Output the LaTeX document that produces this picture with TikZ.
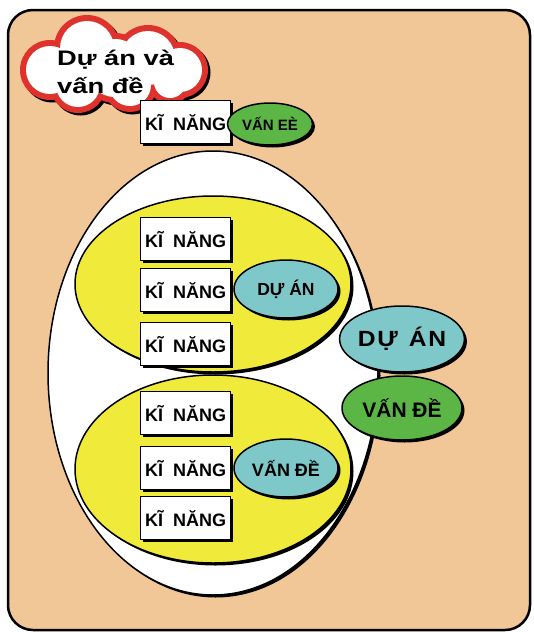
\documentclass[tikz,border=0pt]{standalone}
\usepackage{fontspec}
\setmainfont{Liberation Sans}
\usetikzlibrary{shapes.geometric,shadows}
\definecolor{peach}{HTML}{F2C797}
\definecolor{yel}{HTML}{F0EB3A}
\definecolor{cyanish}{HTML}{7EC8C9}
\definecolor{grn}{HTML}{5BB646}
\definecolor{cloudred}{HTML}{E0322D}
\newcommand{\cloudpuffs}{50/70/30, 87/48/33, 148/58/33, 180/70/28, 78/85/28, 130/85/27, 170/82/22, 115/68/35}
\begin{document}
\begin{tikzpicture}[x=1pt,y=-1pt,
  shad/.style={drop shadow={shadow xshift=2.5pt,shadow yshift=-2.5pt,fill=black,opacity=1}},
  skill/.style={draw=black,line width=1.2pt,fill=white,minimum width=90pt,minimum height=43pt,
    inner sep=0pt,anchor=north west,font=\bfseries\fontsize{18}{20}\selectfont,shad},
  oval/.style={ellipse,draw=black,line width=1.5pt,inner sep=0pt,shad,font=\bfseries},
  bigoval/.style={ellipse,draw=black,line width=1.5pt,inner sep=0pt,shad},
]
\useasboundingbox (0,0) rectangle (533,632);
% frame
\draw[line width=2.5pt,fill=peach,rounded corners=25pt] (8,10) rectangle (530,630);
% cloud: shadow, red rim, white inside
\foreach \cx/\cy/\r in \cloudpuffs { \fill[black] (\cx+2.5,\cy+2.5) circle[radius=\r]; }
\foreach \cx/\cy/\r in \cloudpuffs { \fill[cloudred] (\cx,\cy) circle[radius=\r]; }
\foreach \cx/\cy/\r in \cloudpuffs { \fill[white] (\cx,\cy) circle[radius=\r-6]; }
\node[anchor=north west,align=left,inner sep=0pt,font=\bfseries\fontsize{21}{28}\selectfont] (ctitle) at (57,50)
  {\scalebox{1.3}[1]{Dự án và}\\\scalebox{1.3}[1]{vấn đề}};
% top skill box and oval
\node[skill] (k0) at (140,100) {KĨ\hspace{0.556em}NĂNG};
\node[oval,fill=grn,minimum width=85pt,minimum height=42pt,font=\bfseries\fontsize{15}{17}\selectfont] (v0) at (270,124) {VẤN EÈ};
% big white ellipse
\node[bigoval,fill=white,minimum width=330pt,minimum height=444pt] (big) at (213,373) {};
% yellow ellipses
\node[bigoval,fill=yel,minimum width=276pt,minimum height=176pt] (ytop) at (213,284) {};
\node[bigoval,fill=yel,minimum width=276pt,minimum height=188pt] (ybot) at (213,469) {};
% skills top group
\node[skill] (k1) at (140,217) {KĨ\hspace{0.556em}NĂNG};
\node[skill] (k2) at (140,268) {KĨ\hspace{0.556em}NĂNG};
\node[skill] (k3) at (140,322) {KĨ\hspace{0.556em}NĂNG};
% skills bottom group
\node[skill] (k4) at (140,391) {KĨ\hspace{0.556em}NĂNG};
\node[skill] (k5) at (140,446) {KĨ\hspace{0.556em}NĂNG};
\node[skill] (k6) at (140,496) {KĨ\hspace{0.556em}NĂNG};
% inner ovals
\node[oval,fill=cyanish,minimum width=104pt,minimum height=58pt,font=\bfseries\fontsize{17.5}{19}\selectfont] (d1) at (286,289) {DỰ ÁN};
\node[oval,fill=cyanish,minimum width=104pt,minimum height=58pt,font=\bfseries\fontsize{18}{20}\selectfont] (v1) at (286,468) {VẤN ĐỀ};
% right ovals
\node[oval,fill=cyanish,minimum width=120pt,minimum height=66pt,font=\bfseries\fontsize{22}{24}\selectfont] (d2) at (402,339) {\scalebox{1.12}[1]{D\kern1.5pt Ự\hspace{0.45em}Á\kern1.5pt N}};
\node[oval,fill=grn,minimum width=120pt,minimum height=64pt,font=\bfseries\fontsize{21}{23}\selectfont] (v2) at (402,408) {VẤN ĐỀ};
\end{tikzpicture}
\end{document}
